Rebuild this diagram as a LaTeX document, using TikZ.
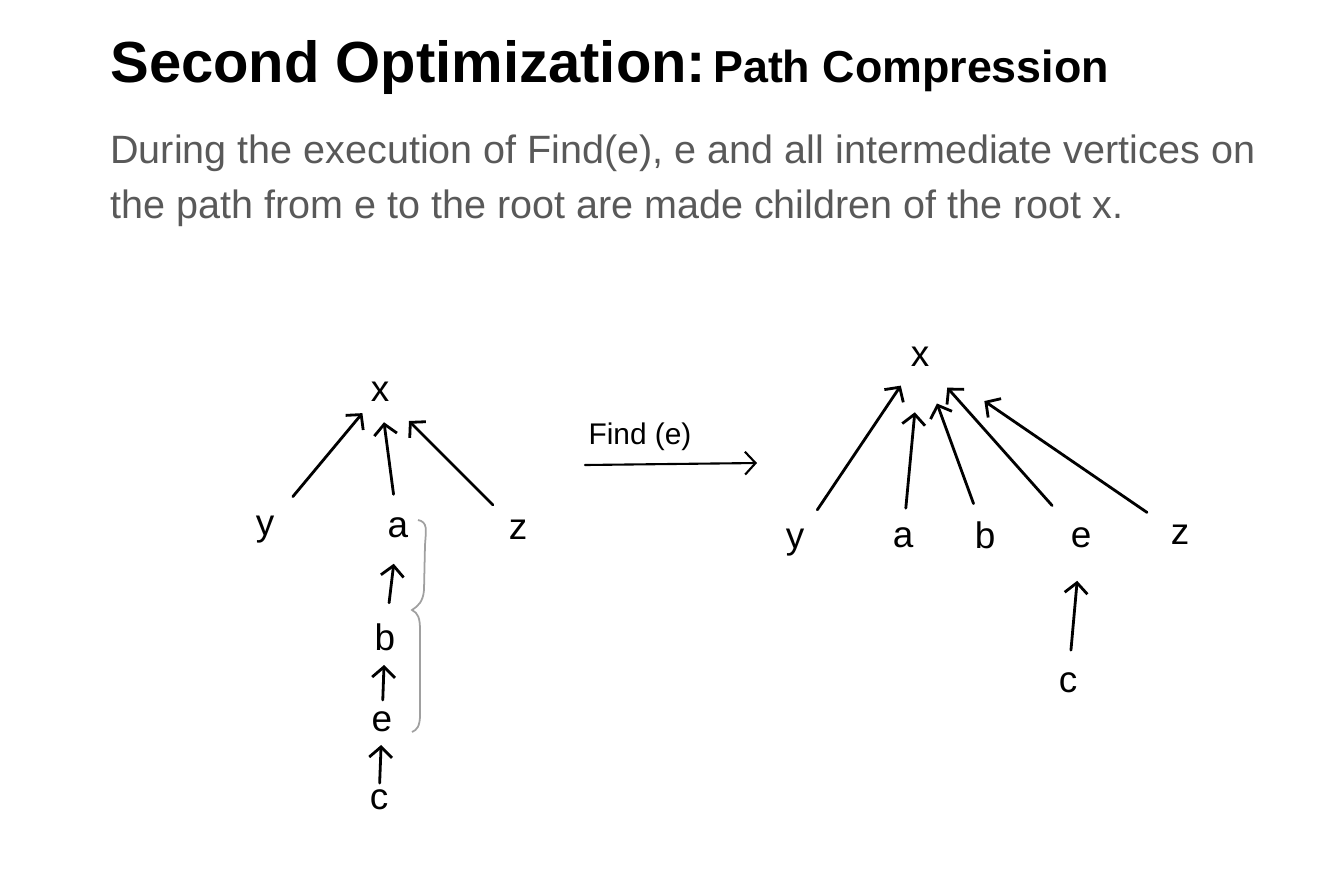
\documentclass[tikz,border=0pt]{standalone}
\usepackage{fontspec}
\setmainfont{Liberation Sans}
\usetikzlibrary{arrows.meta}
\definecolor{bodygray}{HTML}{595959}
\definecolor{bracegray}{HTML}{A0A0A0}

\begin{document}
\begin{tikzpicture}[x=0.02cm, y=-0.02cm,
  lbl/.style={inner sep=0pt, font=\fontsize{21}{24}\selectfont},
  edge/.style={line width=1.6pt, line cap=round, -{Straight Barb[length=6pt,width=13pt]}}]

\useasboundingbox (0,0) rectangle (1342,880);

% Titolo e testo
\node[anchor=base west, inner sep=0pt, font=\bfseries\fontsize{33}{40}\selectfont] (title) at (110,82)
  {Second Optimization:\hspace{-0.25em} {\fontsize{25.5}{28}\selectfont Path Compression}};
\node[anchor=base west, inner sep=0pt, text=bodygray, font=\fontsize{22.5}{26}\selectfont] (desc1) at (110,163)
  {During the execution of Find(e), e and all intermediate vertices on};
\node[anchor=base west, inner sep=0pt, text=bodygray, font=\fontsize{22.5}{26}\selectfont] (desc2) at (110,218)
  {the path from e to the root are made children of the root x.};

% Albero prima
\node[lbl] (lx) at (380,392) {x};
\node[lbl] (ly) at (265,530) {y};
\node[lbl] (la) at (398,528) {a};
\node[lbl] (lz) at (518,530) {z};
\node[lbl] (lb) at (385,637) {b};
\node[lbl] (le) at (382,722) {e};
\node[lbl] (lc) at (379,800) {c};

\draw[edge, shorten <=0.87cm, shorten >=0.55cm] (ly.center) -- (lx.center);
\draw[edge, shorten <=0.68cm, shorten >=0.61cm] (la.center) -- (lx.center);
\draw[edge, shorten <=0.71cm, shorten >=0.82cm] (lz.center) -- (lx.center);
\draw[edge, shorten <=0.69cm, shorten >=0.72cm] (lb.center) -- (la.center);
\draw[edge, shorten <=0.44cm, shorten >=0.56cm] (le.center) -- (lb.center);
\draw[edge, shorten <=0.34cm, shorten >=0.46cm] (lc.center) -- (le.center);

% Graffa sul cammino
\draw[bracegray, line width=1pt] (418,520) .. controls (428,522) and (426,530) .. (425,545) -- (424,590)
  .. controls (423,602) and (418,606) .. (412,610) .. controls (418,613) and (420,618) .. (420,630)
  -- (420,715) .. controls (420,726) and (417,730) .. (412,732);

% Find(e)
\node[lbl, font=\fontsize{17}{20}\selectfont] (find) at (640,437) {Find (e)};
\coordinate (fs) at (585,465);
\coordinate (fe) at (757,463);
\draw[edge, line width=1.2pt] (fs) -- (fe);

% Albero dopo
\node[lbl] (rx) at (920,357) {x};
\node[lbl] (ry) at (795,543) {y};
\node[lbl] (ra) at (903,538) {a};
\node[lbl] (rb) at (985,535) {b};
\node[lbl] (re) at (1081,538) {e};
\node[lbl] (rz) at (1180,535) {z};
\node[lbl] (rc) at (1068,683) {c};

\draw[edge, shorten <=0.80cm, shorten >=0.69cm] (ry.center) -- (rx.center);
\draw[edge, shorten <=0.60cm, shorten >=1.11cm] (ra.center) -- (rx.center);
\draw[edge, shorten <=0.67cm, shorten >=0.99cm] (rb.center) -- (rx.center);
\draw[edge, shorten <=0.87cm, shorten >=0.82cm] (re.center) -- (rx.center);
\draw[edge, shorten <=0.80cm, shorten >=1.56cm] (rz.center) -- (rx.center);
\draw[edge, shorten <=0.66cm, shorten >=0.86cm] (rc.center) -- (re.center);

\end{tikzpicture}
\end{document}
